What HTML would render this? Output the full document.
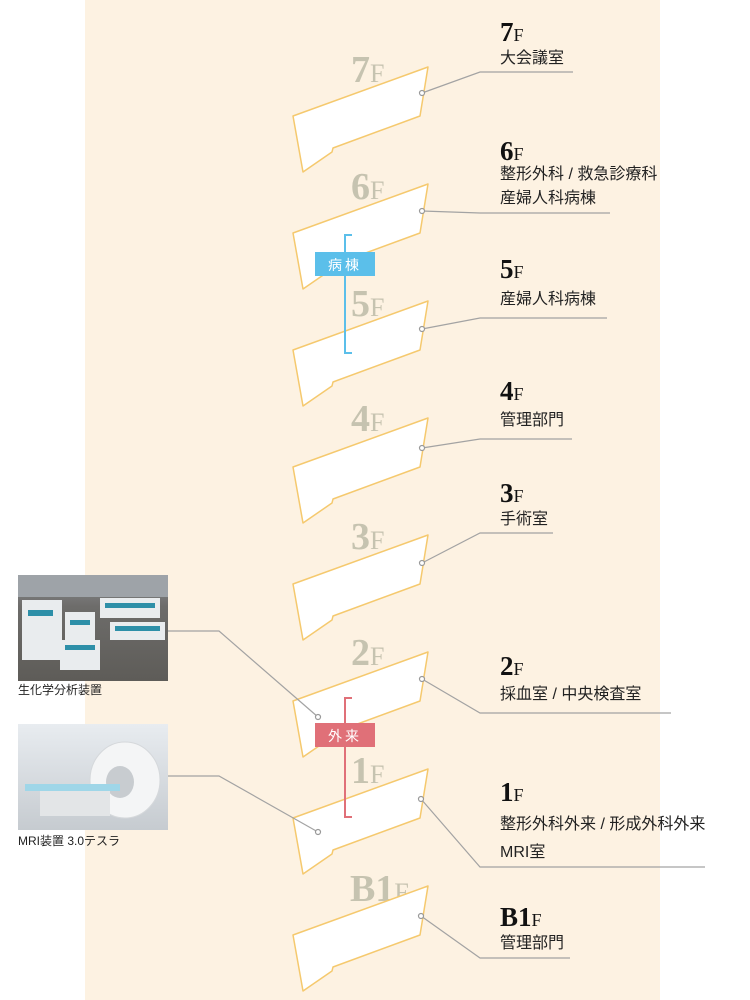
<!DOCTYPE html>
<html><head><meta charset="utf-8"><style>
html,body{margin:0;padding:0;background:#fff;}
svg{display:block;}
.fl{font-family:"Liberation Serif",serif;fill:#c6c3b0;font-weight:bold;}
.nm{font-family:"Liberation Serif",serif;fill:#111;font-weight:bold;}
.fl tspan,.nm tspan{font-weight:normal;}
.jp{font-family:"Liberation Sans","Noto Sans CJK JP",sans-serif;fill:#222;font-size:16px;}
.cap{font-family:"Liberation Sans","Noto Sans CJK JP",sans-serif;fill:#222;font-size:12px;}
</style></head><body>
<svg width="750" height="1000" viewBox="0 0 750 1000" xmlns="http://www.w3.org/2000/svg">
<defs>
<g id="fl"><polygon points="293,116 428,67 420,116 333,148 332,152 303,172" fill="#fff" stroke="#f5c96e" stroke-width="1.5" stroke-linejoin="round"/></g>
<linearGradient id="g1" x1="0" y1="0" x2="0" y2="1"><stop offset="0" stop-color="#8a8d90"/><stop offset="0.3" stop-color="#6d6c6a"/><stop offset="1" stop-color="#5e5c58"/></linearGradient>
<linearGradient id="g2" x1="0" y1="0" x2="0" y2="1"><stop offset="0" stop-color="#e8ecf0"/><stop offset="1" stop-color="#c6cbd0"/></linearGradient>
</defs>
<rect x="85" y="0" width="575" height="1000" fill="#fdf2e2"/>

<g class="fl">
<text x="351" y="82" font-size="38">7<tspan font-size="26">F</tspan></text>
<text x="351" y="199" font-size="38">6<tspan font-size="26">F</tspan></text>
<text x="351" y="316" font-size="38">5<tspan font-size="26">F</tspan></text>
<text x="351" y="431" font-size="38">4<tspan font-size="26">F</tspan></text>
<text x="351" y="549" font-size="38">3<tspan font-size="26">F</tspan></text>
<text x="351" y="665" font-size="38">2<tspan font-size="26">F</tspan></text>
<text x="351" y="783" font-size="38">1<tspan font-size="26">F</tspan></text>
<text x="350" y="901" font-size="38">B1<tspan font-size="26">F</tspan></text>
</g>

<use href="#fl"/>
<use href="#fl" y="117"/>
<use href="#fl" y="234"/>
<use href="#fl" y="351"/>
<use href="#fl" y="468"/>
<use href="#fl" y="585"/>
<use href="#fl" y="702"/>
<use href="#fl" y="819"/>

<g fill="none" stroke="#a3a3a3" stroke-width="1.2">
<polyline points="422,93 480,72 573,72"/>
<polyline points="422,211 480,213 610,213"/>
<polyline points="422,329 480,318 607,318"/>
<polyline points="422,448 480,439 572,439"/>
<polyline points="422,563 480,533 553,533"/>
<polyline points="422,679 480,713 671,713"/>
<polyline points="421,799 480,867 705,867"/>
<polyline points="421,916 480,958 570,958"/>
<polyline points="168,631 219,631 318,717"/>
<polyline points="168,776 219,776 318,832"/>
</g>
<g fill="#fff" stroke="#999" stroke-width="1.2">
<circle cx="422" cy="93" r="2.5"/><circle cx="422" cy="211" r="2.5"/><circle cx="422" cy="329" r="2.5"/>
<circle cx="422" cy="448" r="2.5"/><circle cx="422" cy="563" r="2.5"/><circle cx="422" cy="679" r="2.5"/>
<circle cx="421" cy="799" r="2.5"/><circle cx="421" cy="916" r="2.5"/>
<circle cx="318" cy="717" r="2.5"/><circle cx="318" cy="832" r="2.5"/>
</g>

<polyline points="352,235 345,235 345,353 352,353" fill="none" stroke="#5bbfea" stroke-width="2"/>
<rect x="315" y="252" width="60" height="24" fill="#5bbfea"/>
<text x="345" y="270" text-anchor="middle" font-family="Liberation Sans,Noto Sans CJK JP,sans-serif" font-size="14" fill="#fff" letter-spacing="3">病棟</text>
<polyline points="352,698 345,698 345,817 352,817" fill="none" stroke="#e07078" stroke-width="2"/>
<rect x="315" y="723" width="60" height="24" fill="#e07078"/>
<text x="345" y="741" text-anchor="middle" font-family="Liberation Sans,Noto Sans CJK JP,sans-serif" font-size="14" fill="#fff" letter-spacing="3">外来</text>

<g class="nm">
<text x="500" y="41" font-size="27">7<tspan font-size="18">F</tspan></text>
<text x="500" y="160" font-size="27">6<tspan font-size="18">F</tspan></text>
<text x="500" y="278" font-size="27">5<tspan font-size="18">F</tspan></text>
<text x="500" y="400" font-size="27">4<tspan font-size="18">F</tspan></text>
<text x="500" y="502" font-size="27">3<tspan font-size="18">F</tspan></text>
<text x="500" y="675" font-size="27">2<tspan font-size="18">F</tspan></text>
<text x="500" y="801" font-size="27">1<tspan font-size="18">F</tspan></text>
<text x="500" y="926" font-size="27">B1<tspan font-size="18">F</tspan></text>
</g>
<g class="jp">
<text x="500" y="63">大会議室</text>
<text x="500" y="179">整形外科 / 救急診療科</text>
<text x="500" y="203">産婦人科病棟</text>
<text x="500" y="304">産婦人科病棟</text>
<text x="500" y="425">管理部門</text>
<text x="500" y="524">手術室</text>
<text x="500" y="699">採血室 / 中央検査室</text>
<text x="500" y="829">整形外科外来 / 形成外科外来</text>
<text x="500" y="857">MRI室</text>
<text x="500" y="948">管理部門</text>
</g>

<rect x="18" y="575" width="150" height="106" fill="url(#g1)"/>
<rect x="18" y="575" width="150" height="22" fill="#9ea3a8"/>
<g fill="#e9ecee">
<rect x="22" y="600" width="40" height="60"/><rect x="65" y="612" width="30" height="50"/>
<rect x="100" y="598" width="60" height="20"/><rect x="110" y="622" width="55" height="18"/>
<rect x="60" y="640" width="40" height="30"/>
</g>
<g fill="#2d8fa8">
<rect x="28" y="610" width="25" height="6"/><rect x="70" y="620" width="20" height="5"/><rect x="105" y="603" width="50" height="5"/>
<rect x="115" y="626" width="45" height="5"/><rect x="65" y="645" width="30" height="5"/>
</g>
<text x="18" y="694" class="cap">生化学分析装置</text>
<rect x="18" y="724" width="150" height="106" fill="url(#g2)"/>
<ellipse cx="125" cy="780" rx="35" ry="38" fill="#f4f5f6" stroke="#d5d8db"/>
<ellipse cx="120" cy="782" rx="14" ry="16" fill="#c8ccd0"/>
<rect x="25" y="784" width="95" height="7" fill="#9fd6e8"/>
<rect x="40" y="791" width="70" height="25" fill="#e3e5e7"/>
<text x="18" y="845" class="cap">MRI装置 3.0テスラ</text>
</svg>
</body></html>
